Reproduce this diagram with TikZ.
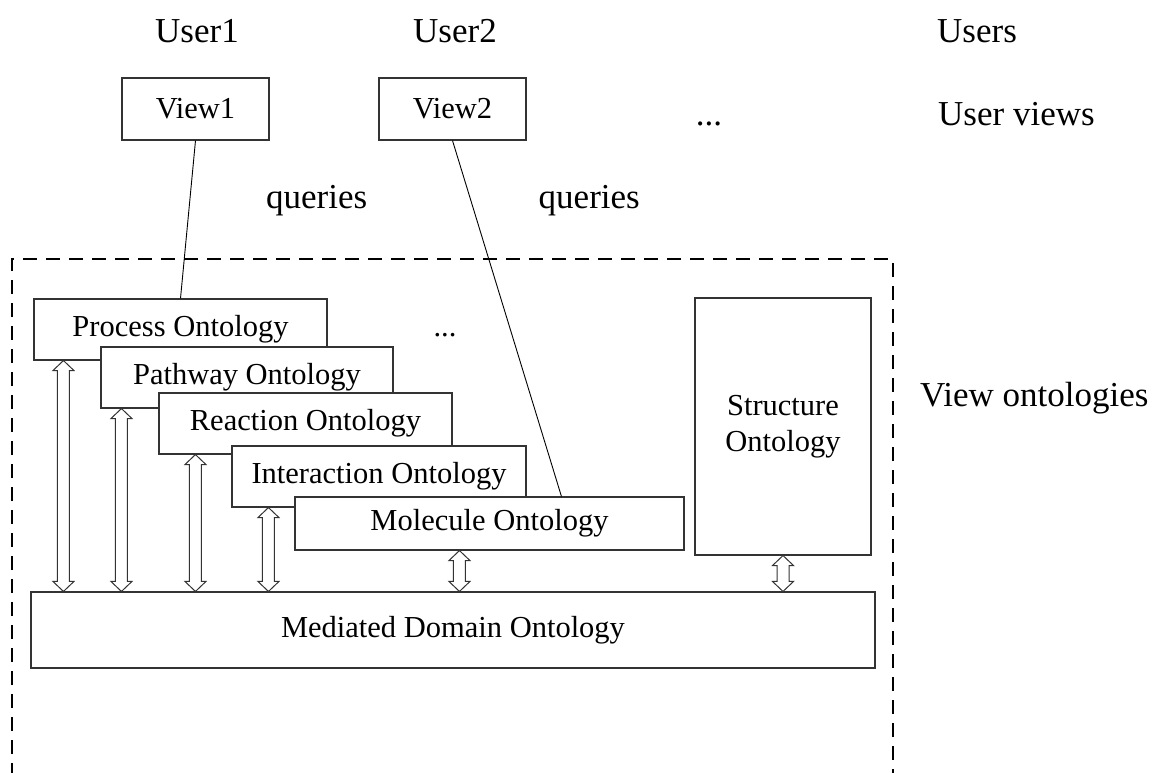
\documentclass[tikz,border=0pt]{standalone}
\usepackage{fontspec}
\setmainfont{Liberation Serif}
\usetikzlibrary{calc}

\tikzset{
  box/.style={draw=black!80, line width=1.1pt, fill=white, inner sep=0pt,
              font=\fontsize{30.5}{36}\selectfont},
  label/.style={inner sep=0pt, font=\fontsize{35}{40}\selectfont},
  boundary/.style={draw=black, line width=2pt, dash pattern=on 14pt off 9pt},
  query/.style={draw=black, line width=0.9pt},
  hollowarrow/.style={draw=black!80, line width=1pt, fill=white, line join=miter}
}

% hollow double-headed block arrow from #1 (upper end) down to #2 (lower end)
\newcommand\biarrow[2]{%
  \draw[hollowarrow] let \p1=(#1), \p2=(#2) in
    (\x1,\y1) -- (\x1+10.5pt,\y1-10pt) -- (\x1+6pt,\y1-10pt)
    -- (\x1+6pt,\y2+10pt) -- (\x1+10.5pt,\y2+10pt) -- (\x1,\y2)
    -- (\x1-10.5pt,\y2+10pt) -- (\x1-6pt,\y2+10pt)
    -- (\x1-6pt,\y1-10pt) -- (\x1-10.5pt,\y1-10pt) -- cycle;}

\begin{document}
\begin{tikzpicture}[x=1pt, y=-1pt]
\useasboundingbox (0,0) rectangle (1161,773);

% layer labels
\node[label, anchor=base] (u1) at (197,43) {User1};
\node[label, anchor=base] (u2) at (455,43) {User2};
\node[label, anchor=base west] (users) at (937,43) {Users};
\node[label, anchor=base west] (uviews) at (938,125) {User views};
\node[label, anchor=base] (dots1) at (709,125) {...};
\node[label, anchor=base west] (q1) at (266,208) {queries};
\node[label, anchor=base east] (q2) at (640,208) {queries};
\node[label, anchor=base west] (vonto) at (920,406) {View ontologies};

% user views
\node[box, minimum width=147pt, minimum height=62pt] (view1) at (195.5,109) {View1};
\node[box, minimum width=147pt, minimum height=62pt] (view2) at (452.5,109) {View2};

% system boundary (open at the bottom edge)
\draw[boundary] (12,800) -- (12,259) -- (893,259) -- (893,800);

% stacked view ontologies
\node[box, minimum width=293pt, minimum height=61pt] (proc) at (180.5,329.5) {Process Ontology};
\node[box, minimum width=292pt, minimum height=61pt] (path) at (247,377.5) {Pathway Ontology};
\node[box, minimum width=293pt, minimum height=61pt] (reac) at (305.5,423.5) {Reaction Ontology};
\node[box, minimum width=294pt, minimum height=61pt] (inter) at (379,476.5) {Interaction Ontology};
\node[box, minimum width=389pt, minimum height=53pt] (mol) at (489.5,523.5) {Molecule Ontology};
\node[box, minimum width=176pt, minimum height=257pt, align=center] (struct) at (783,426.5) {Structure\\Ontology};
\node[label, anchor=base, font=\fontsize{30.5}{36}\selectfont] (dots2) at (445,336) {...};

% mediated ontology
\node[box, minimum width=844pt, minimum height=76pt] (med) at (453,630) {Mediated Domain Ontology};

% query links
\path (mol.north west) ++(267,0) coordinate (molq);
\draw[query] (view1.south) -- (proc.north);
\draw[query] (view2.south) -- (molq);

% mappings to the mediated ontology
\path (proc.south west) ++(30,0) coordinate (a1);
\path (path.south west) ++(21,0) coordinate (a2);
\path (reac.south west) ++(37,0) coordinate (a3);
\path (inter.south west) ++(37,0) coordinate (a4);
\path (mol.south west) ++(165,0) coordinate (a5);
\biarrow{a1}{a1 |- med.north}
\biarrow{a2}{a2 |- med.north}
\biarrow{a3}{a3 |- med.north}
\biarrow{a4}{a4 |- med.north}
\biarrow{a5}{a5 |- med.north}
\biarrow{struct.south}{struct.south |- med.north}
\end{tikzpicture}
\end{document}
